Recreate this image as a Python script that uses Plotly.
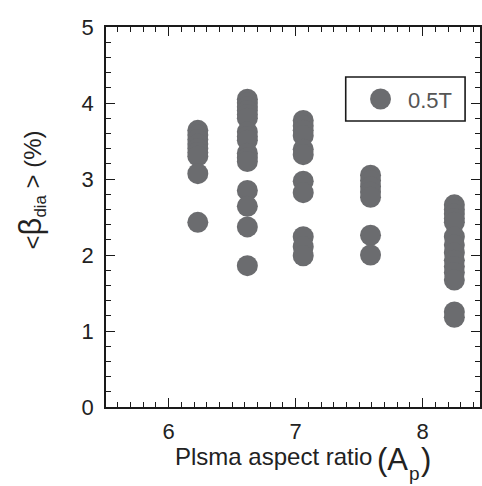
import plotly.graph_objects as go

# ---- data ----
aspect_ratio = [6.23, 6.62, 7.06, 7.59, 8.25]
beta_ap_623 = [3.64, 3.58, 3.52, 3.46, 3.40, 3.35, 3.30, 3.07, 2.43]
beta_ap_662 = [4.05, 4.00, 3.95, 3.90, 3.85, 3.80, 3.62, 3.56, 3.51, 3.34, 3.28, 3.23, 2.85, 2.64, 2.37, 1.86]
beta_ap_706 = [3.77, 3.70, 3.64, 3.57, 3.39, 3.32, 2.97, 2.82, 2.24, 2.11, 1.99]
beta_ap_759 = [3.05, 2.98, 2.90, 2.83, 2.76, 2.26, 2.00]
beta_ap_825 = [2.66, 2.60, 2.54, 2.48, 2.43, 2.24, 2.13, 2.03, 1.93, 1.85, 1.77, 1.67, 1.25, 1.18]
series_name = "0.5T"
x_ticks = [6, 7, 8]
y_ticks = [0, 1, 2, 3, 4, 5]

columns = [beta_ap_623, beta_ap_662, beta_ap_706, beta_ap_759, beta_ap_825]
xs, ys = [], []
for ap, col in zip(aspect_ratio, columns):
    xs += [ap] * len(col)
    ys += col

MARK = "#6b6c6f"
FONT = "Liberation Sans, Arial, sans-serif"
W, H = 482, 486
L, R, T, B = 106, 0, 27, 79

fig = go.Figure()
fig.add_trace(go.Scatter(
    x=xs, y=ys, mode="markers", name=series_name, showlegend=False,
    marker=dict(size=21, color=MARK, line=dict(width=0)),
))

axis_common = dict(
    showgrid=False, zeroline=False, showline=True, linecolor="#1a1a1a",
    linewidth=1.6, mirror="allticks", ticks="inside", ticklen=9, tickwidth=1.3,
    tickcolor="#1a1a1a", tickfont=dict(family=FONT, size=22, color="#222"),
)

fig.update_xaxes(
    range=[5.507, 8.452], tickvals=x_ticks, ticktext=[str(v) for v in x_ticks],
    minor=dict(dtick=0.1, tick0=0, ticks="inside", ticklen=5, tickwidth=1.1, tickcolor="#1a1a1a"),
    ticklabelstandoff=4,
    **axis_common,
)
fig.update_yaxes(
    range=[0, 5], tickvals=y_ticks, ticktext=[str(v) for v in y_ticks],
    minor=dict(dtick=0.2, tick0=0, ticks="inside", ticklen=5, tickwidth=1.1, tickcolor="#1a1a1a"),
    ticklabelstandoff=6,
    **axis_common,
)

def px_x(p):
    return (p - L) / (W - L - R)

def px_y(p):
    return 1 - (p - T) / (H - T - B)

annotations = [
    # x-axis title
    dict(text="Plsma aspect ratio", x=px_x(173), y=px_y(472), xanchor="left", yanchor="bottom",
         font=dict(family=FONT, size=24, color="#222")),
    dict(text="(A", x=px_x(376), y=px_y(479), xanchor="left", yanchor="bottom",
         font=dict(family=FONT, size=31, color="#222")),
    dict(text="p", x=px_x(409), y=px_y(486), xanchor="left", yanchor="bottom",
         font=dict(family=FONT, size=19, color="#222")),
    dict(text=")", x=px_x(421), y=px_y(479), xanchor="left", yanchor="bottom",
         font=dict(family=FONT, size=31, color="#222")),
    # y-axis title
    dict(text="&lt;<span style='font-size:31px'>β</span><sub>dia</sub> &gt; (%)",
         x=px_x(31), y=px_y(190), xanchor="center", yanchor="middle", textangle=-90,
         font=dict(family=FONT, size=24, color="#222")),
    # legend text
    dict(text=series_name, x=px_x(408), y=px_y(100), xanchor="left", yanchor="middle",
         font=dict(family=FONT, size=22, color="#555")),
]
for a in annotations:
    a.update(xref="paper", yref="paper", showarrow=False)

shapes = [
    # legend box
    dict(type="rect", xref="paper", yref="paper", x0=px_x(347), x1=px_x(467), y0=px_y(77), y1=px_y(121),
         line=dict(color="#1a1a1a", width=1.6), fillcolor="white"),
    # legend symbol
    dict(type="circle", xref="paper", yref="paper", x0=px_x(371.5), x1=px_x(392.5), y0=px_y(88.5), y1=px_y(109.5),
         line=dict(width=0), fillcolor=MARK),
]

fig.update_layout(
    width=W, height=H, margin=dict(l=L, r=R, t=T, b=B, pad=0),
    paper_bgcolor="white", plot_bgcolor="white",
    annotations=annotations, shapes=shapes, showlegend=False,
)

fig.write_html("out.html", config={"displayModeBar": False},
               post_script="document.body.style.margin='0';document.body.style.overflow='hidden';")
